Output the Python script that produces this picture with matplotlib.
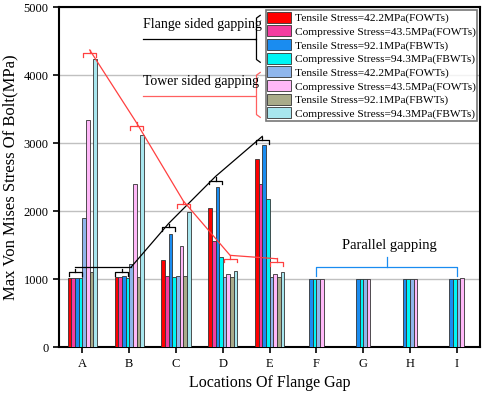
import numpy as np
import matplotlib.pyplot as plt

plt.rcParams['font.family'] = 'Liberation Serif'

locations = ['A', 'B', 'C', 'D', 'E', 'F', 'G', 'H', 'I']
labels = ['Tensile Stress=42.2MPa(FOWTs)', 'Compressive Stress=43.5MPa(FOWTs)',
          'Tensile Stress=92.1MPa(FBWTs)', 'Compressive Stress=94.3MPa(FBWTs)',
          'Tensile Stress=42.2MPa(FOWTs)', 'Compressive Stress=43.5MPa(FOWTs)',
          'Tensile Stress=92.1MPa(FBWTs)', 'Compressive Stress=94.3MPa(FBWTs)']
colors = ['#ff0000', '#f43ca0', '#1a8cf0', '#00f5f5',
          '#8fb6ec', '#ffb8f8', '#a9ab8a', '#a8e6ee']

# flange sided (A-E), tower sided (A-E)
flange_t42 = [1020, 1030, 1280, 2040, 2760]
flange_c43 = [1020, 1030, 1050, 1560, 2400]
flange_t92 = [1020, 1050, 1670, 2360, 2970]
flange_c94 = [1020, 1020, 1030, 1320, 2180]
tower_t42 = [1900, 1230, 1050, 1030, 1030]
tower_c43 = [3340, 2400, 1490, 1080, 1070]
tower_t92 = [1110, 1030, 1040, 1030, 1030]
tower_c94 = [4240, 3120, 1990, 1120, 1110]
# parallel gapping (F-I): blue, cyan, light blue, light pink
par_t92 = [1000, 1000, 1000, 1000]
par_c94 = [1000, 1000, 1000, 1000]
par_t42 = [1000, 1000, 1000, 1000]
par_c43 = [1000, 1000, 1000, 1010]

series = [flange_t42, flange_c43, flange_t92, flange_c94,
          tower_t42, tower_c43, tower_t92, tower_c94]

fig = plt.figure(figsize=(4.84, 3.99), dpi=100)
ax = fig.add_axes([0.122, 0.130, 0.870, 0.852])

w = 0.078
x5 = np.arange(5)
for i, s in enumerate(series):
    ax.bar(x5 + (i - 3.5) * w, s, w, color=colors[i], edgecolor='#333333',
           linewidth=0.6, label=labels[i], zorder=3)

x4 = np.arange(5, 9)
par = [(par_t92, colors[2]), (par_c94, colors[3]), (par_t42, colors[4]), (par_c43, colors[5])]
for i, (s, c) in enumerate(par):
    ax.bar(x4 + (i - 1.5) * w, s, w, color=c, edgecolor='#333333', linewidth=0.6, zorder=3)


def bracket(xc, y, col, half=1.8 * w, h=55):
    ax.plot([xc - half, xc - half, xc + half, xc + half], [y - h, y, y, y - h],
            color=col, lw=0.9, zorder=4)
    ax.plot([xc, xc], [y, y + h], color=col, lw=0.9, zorder=4)


# flange sided brackets + line
fx = x5 - 2 * w
fy = [1100, 1100, 1760, 2450, 3040]
for xx, yy in zip(fx, fy):
    bracket(xx, yy, 'black')
ax.plot([fx[0], fx[1] + 0.2], [fy[0] + 80, fy[0] + 80], color='black', lw=0.9, zorder=4)
ax.plot([fx[1] + 0.2, fx[2], fx[3], fx[4]], [fy[0] + 80, fy[2] + 60, fy[3] + 60, fy[4] + 60],
        color='black', lw=0.9, zorder=4)

# tower sided brackets + line
tx = x5 + 2 * w
ty = [4320, 3250, 2100, 1300, 1250]
for xx, yy in zip(tx, ty):
    bracket(xx, yy, '#ff4040')
ax.plot(tx, [y + 50 for y in ty], color='#ff4040', lw=0.9, zorder=4)

# label lines near legend
ax.text(1.3, 4740, 'Flange sided gapping', fontsize=10, va='center', zorder=5)
ax.plot([1.3, 3.68], [4530, 4530], color='black', lw=0.9)
ax.text(1.3, 3900, 'Tower sided gapping', fontsize=10, va='center', zorder=5)
ax.plot([1.3, 3.68], [3700, 3700], color='#ff6060', lw=0.9)

# braces next to legend
ax.plot([3.8, 3.72, 3.72, 3.8], [4880, 4840, 4230, 4190], color='black', lw=0.9)
ax.plot([3.72, 3.68], [4530, 4530], color='black', lw=0.9)
ax.plot([3.8, 3.72, 3.72, 3.8], [4040, 4000, 3420, 3380], color='#ff6060', lw=0.9)

# parallel gapping brace
ax.plot([5, 5, 8, 8], [1050, 1180, 1180, 1050], color='#1a8cf0', lw=0.9)
ax.plot([6.5, 6.5], [1180, 1330], color='#1a8cf0', lw=0.9)
ax.text(6.55, 1400, 'Parallel gapping', fontsize=10.5, ha='center', va='bottom')

leg = ax.legend(loc='upper right', fontsize=8.2, frameon=True, fancybox=False,
                edgecolor='#555555', handlelength=2.1, handleheight=1.1,
                handletextpad=0.3, labelspacing=0.18, borderpad=0.15,
                borderaxespad=0.25)
leg.get_frame().set_linewidth(1.2)
leg.set_zorder(6)

ax.set_xlim(-0.5, 8.5)
ax.set_ylim(0, 5000)
ax.set_xticks(range(9))
ax.set_xticklabels(locations)
ax.set_yticks(range(0, 5001, 1000))
ax.yaxis.grid(True, color='#c0c0c0', lw=1.0, zorder=0)
ax.tick_params(direction='out', length=4, width=1.2, labelsize=9)
for sp in ax.spines.values():
    sp.set_linewidth(1.5)
ax.set_xlabel('Locations Of Flange Gap', fontsize=11.5)
ax.set_ylabel('Max Von Mises Stress Of Bolt(MPa)', fontsize=12)

fig.savefig('out.png', dpi=100)
